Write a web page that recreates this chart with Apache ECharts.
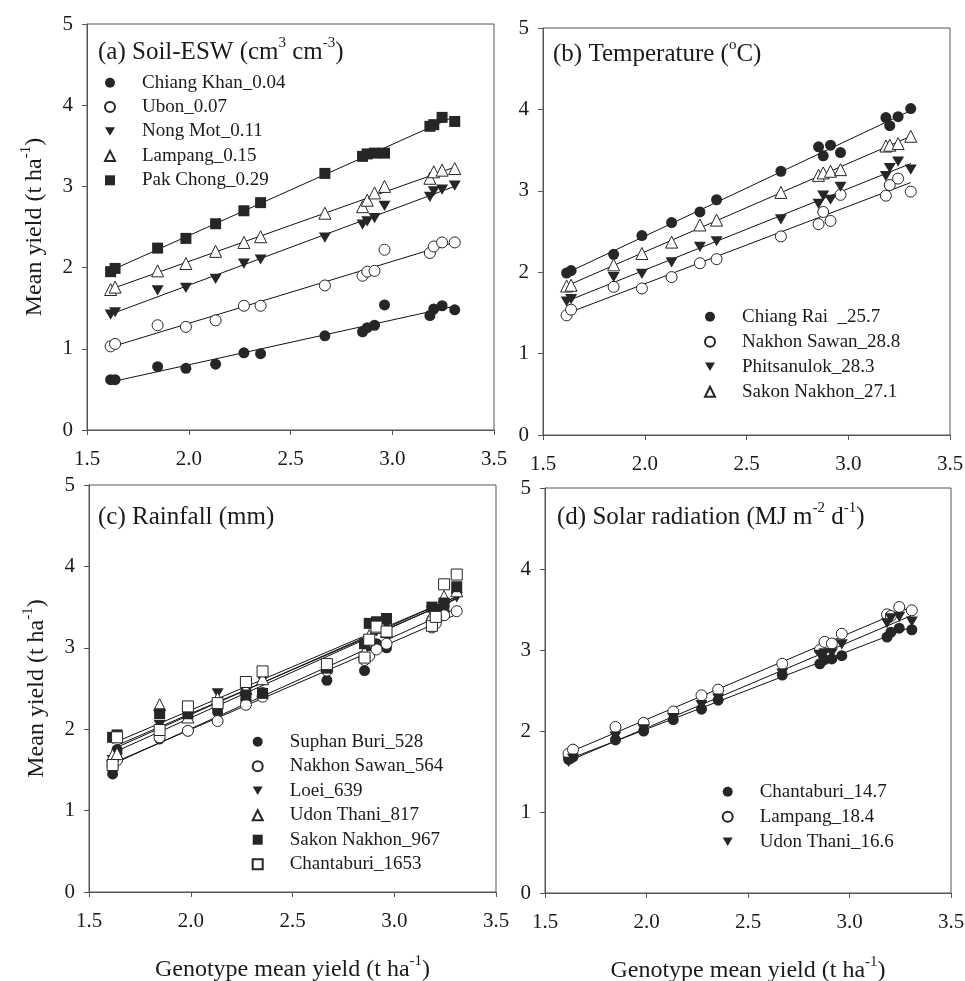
<!DOCTYPE html>
<html>
<head>
<meta charset="utf-8">
<script src="https://cdn.jsdelivr.net/npm/echarts@6/dist/echarts.min.js"></script>
<style>
  html, body { margin: 0; padding: 0; background: #ffffff; }
  #chart { width: 965px; height: 981px; }
</style>
</head>
<body>
<div id="chart"></div>
<script>
// Genotype mean yield (t/ha) — shared x values for every environment
const genotypeMean = [1.616, 1.638, 1.847, 1.986, 2.132, 2.271, 2.353, 2.669, 2.854, 2.877, 2.913, 2.962, 3.185, 3.204, 3.245, 3.307];

// Axis ticks
const xTicks = [1.5, 2.0, 2.5, 3.0, 3.5];
const yTicks = [0, 1, 2, 3, 4, 5];

// (a) Soil-ESW environments
const chiangKhan = [0.62, 0.62, 0.78, 0.76, 0.81, 0.95, 0.94, 1.16, 1.21, 1.26, 1.29, 1.54, 1.41, 1.49, 1.53, 1.48];
const ubon       = [1.03, 1.06, 1.29, 1.27, 1.35, 1.53, 1.53, 1.78, 1.90, 1.95, 1.96, 2.22, 2.18, 2.26, 2.31, 2.31];
const nongMot    = [1.42, 1.45, 1.72, 1.75, 1.86, 2.05, 2.10, 2.37, 2.53, 2.57, 2.61, 2.76, 2.87, 2.94, 2.96, 3.01];
const lampangE   = [1.73, 1.76, 1.96, 2.05, 2.20, 2.31, 2.38, 2.67, 2.75, 2.83, 2.92, 3.00, 3.10, 3.18, 3.20, 3.22];
const pakChong   = [1.95, 1.99, 2.24, 2.36, 2.54, 2.70, 2.80, 3.16, 3.37, 3.40, 3.41, 3.41, 3.74, 3.76, 3.85, 3.80];

// (b) Temperature environments
const chiangRai   = [1.99, 2.02, 2.22, 2.45, 2.61, 2.74, 2.89, 3.24, 3.54, 3.43, 3.56, 3.47, 3.90, 3.80, 3.91, 4.01];
const nakhonSawT  = [1.47, 1.54, 1.82, 1.80, 1.94, 2.11, 2.16, 2.44, 2.59, 2.74, 2.63, 2.95, 2.94, 3.07, 3.15, 2.99];
const phitsanulok = [1.64, 1.67, 1.94, 1.98, 2.12, 2.31, 2.38, 2.65, 2.84, 2.94, 2.89, 3.05, 3.18, 3.28, 3.36, 3.26];
const sakonT      = [1.83, 1.84, 2.09, 2.23, 2.37, 2.58, 2.64, 2.98, 3.19, 3.22, 3.24, 3.26, 3.55, 3.56, 3.58, 3.67];

// (c) Rainfall environments
const suphanBuri  = [1.45, 1.75, 1.88, 1.98, 2.21, 2.35, 2.45, 2.60, 2.72, 2.95, 3.05, 3.00, 3.35, 3.48, 3.45, 3.68];
const nakhonSawR  = [1.55, 1.62, 1.90, 1.98, 2.10, 2.30, 2.40, 2.72, 2.85, 2.90, 2.98, 3.05, 3.25, 3.30, 3.40, 3.45];
const loei        = [1.62, 1.65, 2.05, 2.14, 2.44, 2.45, 2.60, 2.75, 3.05, 3.10, 3.20, 3.28, 3.45, 3.48, 3.55, 3.62];
const udonR       = [1.68, 1.70, 2.30, 2.15, 2.38, 2.50, 2.62, 2.78, 2.95, 3.15, 3.25, 3.20, 3.40, 3.45, 3.63, 3.70];
const sakonR      = [1.90, 1.93, 2.19, 2.19, 2.30, 2.42, 2.44, 2.75, 3.05, 3.30, 3.32, 3.36, 3.50, 3.45, 3.55, 3.75];
const chantaR     = [1.56, 1.90, 1.99, 2.28, 2.32, 2.58, 2.71, 2.80, 2.88, 3.10, 3.26, 3.20, 3.27, 3.38, 3.78, 3.90];

// (d) Solar radiation environments
const chantaS  = [1.65, 1.68, 1.89, 2.00, 2.14, 2.27, 2.38, 2.69, 2.83, 2.88, 2.89, 2.93, 3.16, 3.22, 3.27, 3.25];
const lampangS = [1.72, 1.77, 2.05, 2.10, 2.24, 2.44, 2.51, 2.83, 3.00, 3.10, 3.08, 3.20, 3.44, 3.42, 3.53, 3.49];
const udonS    = [1.62, 1.66, 1.93, 2.02, 2.16, 2.32, 2.40, 2.71, 2.94, 2.96, 2.96, 3.07, 3.33, 3.39, 3.41, 3.35];

const FONT = "'Liberation Serif', 'DejaVu Serif', serif";
const INK = '#262626';
const TEXT = '#1a1a1a';
const AXIS = '#555555';

// marker styles
const DOWN_TRI = 'path://M0,0L20,0L10,17Z';
const MARKS = {
  fCircle: { symbol: 'circle', fill: INK },
  oCircle: { symbol: 'circle', fill: '#ffffff' },
  fDown:   { symbol: DOWN_TRI, fill: INK },
  oUp:     { symbol: 'triangle', fill: '#ffffff' },
  fSquare: { symbol: 'rect', fill: INK },
  oSquare: { symbol: 'rect', fill: '#ffffff' }
};

const panels = [
  {
    title: '{t|(a) Soil-ESW (cm}{s|3}{t| cm}{s|-3}{t|)}', titlePos: [98, 36],
    legendPos: [104, 72.7], legendGap: 4.4,
    series: [
      ['Chiang Khan_0.04', chiangKhan, 'fCircle'],
      ['Ubon_0.07', ubon, 'oCircle'],
      ['Nong Mot_0.11', nongMot, 'fDown'],
      ['Lampang_0.15', lampangE, 'oUp'],
      ['Pak Chong_0.29', pakChong, 'fSquare']
    ]
  },
  {
    title: '{t|(b) Temperature (}{s|o}{t|C)}', titlePos: [553, 38],
    legendPos: [704, 306.7], legendGap: 5,
    series: [
      ['Chiang Rai  _25.7', chiangRai, 'fCircle'],
      ['Nakhon Sawan_28.8', nakhonSawT, 'oCircle'],
      ['Phitsanulok_28.3', phitsanulok, 'fDown'],
      ['Sakon Nakhon_27.1', sakonT, 'oUp']
    ]
  },
  {
    title: '{t|(c) Rainfall (mm)}', titlePos: [98, 501],
    legendPos: [251.7, 731.7], legendGap: 4.5,
    series: [
      ['Suphan Buri_528', suphanBuri, 'fCircle'],
      ['Nakhon Sawan_564', nakhonSawR, 'oCircle'],
      ['Loei_639', loei, 'fDown'],
      ['Udon Thani_817', udonR, 'oUp'],
      ['Sakon Nakhon_967', sakonR, 'fSquare'],
      ['Chantaburi_1653', chantaR, 'oSquare']
    ]
  },
  {
    title: '{t|(d) Solar radiation (MJ m}{s|-2}{t| d}{s|-1}{t|)}', titlePos: [557, 501],
    legendPos: [721.7, 781.7], legendGap: 5,
    series: [
      ['Chantaburi_14.7', chantaS, 'fCircle'],
      ['Lampang_18.4', lampangS, 'oCircle'],
      ['Udon Thani_16.6', udonS, 'fDown']
    ]
  }
];

const grids = [
  { left: 87,  top: 24,  width: 407, height: 406 },
  { left: 543, top: 28,  width: 407, height: 407 },
  { left: 89,  top: 485, width: 407, height: 407 },
  { left: 545, top: 488, width: 406, height: 405 }
];

// least-squares fit, drawn across the range of genotype means
function fitLine(xs, ys) {
  const n = xs.length;
  const mx = xs.reduce((a, b) => a + b, 0) / n;
  const my = ys.reduce((a, b) => a + b, 0) / n;
  let sxy = 0, sxx = 0;
  for (let i = 0; i < n; i++) {
    sxy += (xs[i] - mx) * (ys[i] - my);
    sxx += (xs[i] - mx) * (xs[i] - mx);
  }
  const b = sxy / sxx, a = my - b * mx;
  const x0 = Math.min(...xs), x1 = Math.max(...xs);
  return [[x0, a + b * x0], [x1, a + b * x1]];
}

// main text plus raised superscript
function richSet(key, size) {
  const o = {};
  o[key] = { fontFamily: FONT, fontSize: size, fontWeight: 'normal', color: TEXT, lineHeight: size + 4, verticalAlign: 'bottom' };
  o.s = { fontFamily: FONT, fontSize: 15, fontWeight: 'normal', color: TEXT, lineHeight: 16, verticalAlign: 'top' };
  return o;
}

const option = {
  animation: false,
  backgroundColor: '#ffffff',
  grid: grids.map(g => Object.assign({ show: true, borderColor: AXIS, borderWidth: 1, containLabel: false, outerBoundsMode: 'none' }, g)),
  title: panels.map(p => ({
    text: p.title, left: p.titlePos[0], top: p.titlePos[1], padding: 0,
    textStyle: { fontWeight: 'normal', rich: richSet('t', 25) }
  })),
  legend: panels.map(p => ({
    orient: 'vertical', left: p.legendPos[0], top: p.legendPos[1], padding: 0,
    itemWidth: 10, itemHeight: 10, itemGap: p.legendGap, selectedMode: false,
    data: p.series.map(s => s[0]),
    textStyle: { fontFamily: FONT, fontSize: 19, fontWeight: 'normal', color: TEXT, lineHeight: 20, padding: [0, 0, 0, 22] }
  })),
  xAxis: grids.map((g, i) => ({
    gridIndex: i, type: 'value', min: xTicks[0], max: xTicks[xTicks.length - 1], interval: 0.5,
    axisLine: { show: true, onZero: false, lineStyle: { color: AXIS, width: 1 } },
    axisTick: { show: true, inside: false, length: 5, lineStyle: { color: AXIS } },
    axisLabel: { margin: 19, fontFamily: FONT, fontSize: 21, color: TEXT, formatter: v => v.toFixed(1) },
    splitLine: { show: false },
    name: i >= 2 ? '{n|Genotype mean yield (t ha}{s|-1}{n|)}' : '',
    nameLocation: 'middle', nameGap: 62, nameMoveOverlap: false,
    nameTextStyle: { fontWeight: 'normal', rich: richSet('n', 24) }
  })),
  yAxis: grids.map((g, i) => ({
    gridIndex: i, type: 'value', min: yTicks[0], max: yTicks[yTicks.length - 1], interval: 1,
    axisLine: { show: true, onZero: false, lineStyle: { color: AXIS, width: 1 } },
    axisTick: { show: true, inside: false, length: 5, lineStyle: { color: AXIS } },
    axisLabel: { margin: 14, fontFamily: FONT, fontSize: 21, color: TEXT },
    splitLine: { show: false },
    name: i % 2 === 0 ? '{n|Mean yield (t ha}{s|-1}{n|)}' : '',
    nameLocation: 'middle', nameRotate: 90, nameGap: 40, nameMoveOverlap: false,
    nameTextStyle: { fontWeight: 'normal', rich: richSet('n', 24) }
  })),
  series: []
};

// regression lines first, markers on top
panels.forEach((p, gi) => {
  p.series.forEach(([name, ys]) => {
    option.series.push({
      name: 'fit ' + name, type: 'line', xAxisIndex: gi, yAxisIndex: gi,
      data: fitLine(genotypeMean, ys), showSymbol: false, silent: true,
      lineStyle: { color: '#111111', width: 1 }, z: 2
    });
  });
});

panels.forEach((p, gi) => {
  p.series.forEach(([name, ys, markKey]) => {
    const m = MARKS[markKey];
    option.series.push({
      name: name, type: 'scatter', xAxisIndex: gi, yAxisIndex: gi,
      data: genotypeMean.map((x, k) => [x, ys[k]]),
      symbol: m.symbol, symbolSize: markKey === 'fDown' || markKey === 'oUp' ? 12 : 11,
      symbolKeepAspect: true,
      itemStyle: { color: m.fill, borderColor: INK, borderWidth: m.fill === INK ? 0 : 1, opacity: 1 },
      z: 3
    });
  });
});

const chart = echarts.init(document.getElementById('chart'), null, { renderer: 'canvas' });
chart.setOption(option);
</script>
</body>
</html>
